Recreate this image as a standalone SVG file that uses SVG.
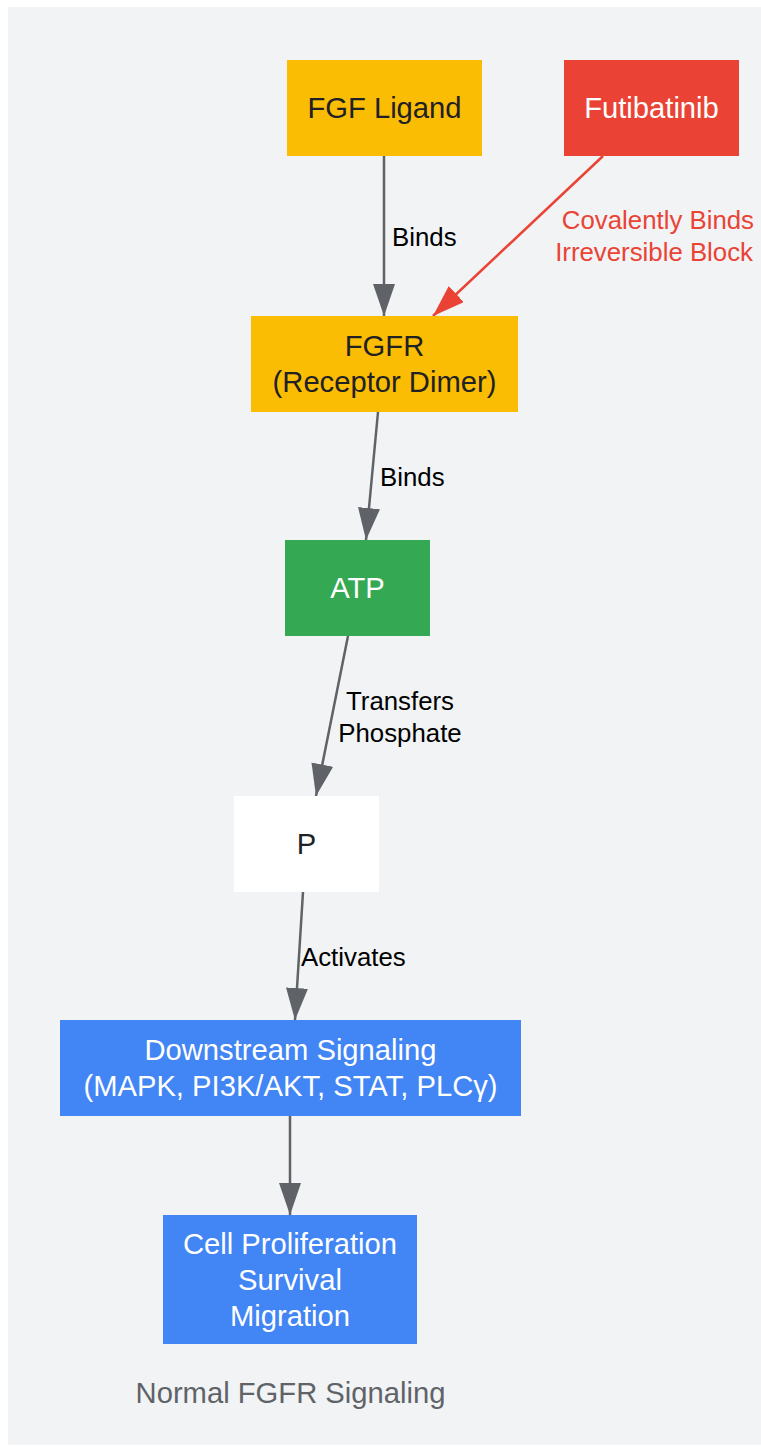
<svg xmlns="http://www.w3.org/2000/svg" width="761" height="1446" viewBox="0 0 761 1446">
<style>
.nt{font-family:"Liberation Sans",Arial,sans-serif;font-size:29.2px;text-anchor:middle}
.el{font-family:"Liberation Sans",Arial,sans-serif;font-size:25.8px;fill:#000}
.dark{fill:#202124}
.white{fill:#ffffff}
.edge{fill:none;stroke:#5f6368;stroke-width:2.5}
.red{fill:none;stroke:#ea4335;stroke-width:2.5}
</style>
<defs>
<marker id="ag" markerUnits="userSpaceOnUse" markerWidth="32" markerHeight="22" refX="32" refY="11" orient="auto">
<path d="M0,0 L32,11 L0,22 z" fill="#5f6368"/>
</marker>
<marker id="ar" markerUnits="userSpaceOnUse" markerWidth="32" markerHeight="22" refX="32" refY="11" orient="auto">
<path d="M0,0 L32,11 L0,22 z" fill="#ea4335"/>
</marker>
</defs>
<rect x="0" y="0" width="761" height="1446" fill="#ffffff"/>
<rect x="8" y="7" width="753" height="1438" fill="#f1f3f5"/>
<g id="connectors">
<line class="edge" x1="384" y1="156" x2="384" y2="316" marker-end="url(#ag)"/>
<line class="red" x1="603" y1="156" x2="433" y2="316" marker-end="url(#ar)"/>
<line class="edge" x1="378" y1="412" x2="366" y2="540" marker-end="url(#ag)"/>
<line class="edge" x1="348" y1="636" x2="316" y2="796" marker-end="url(#ag)"/>
<line class="edge" x1="303" y1="892" x2="295" y2="1020" marker-end="url(#ag)"/>
<line class="edge" x1="290" y1="1116" x2="290" y2="1215" marker-end="url(#ag)"/>
<text class="el" x="392" y="246">Binds</text>
<text class="el" x="754" y="229" text-anchor="end" style="fill:#ea4335">Covalently Binds</text>
<text class="el" x="753" y="261" text-anchor="end" style="fill:#ea4335">Irreversible Block</text>
<text class="el" x="380" y="486">Binds</text>
<text class="el" x="400" y="710" text-anchor="middle">Transfers</text>
<text class="el" x="400" y="742" text-anchor="middle">Phosphate</text>
<text class="el" x="301" y="966">Activates</text>
</g>
<g id="fgf">
<rect x="287" y="60" width="195" height="96" fill="#fbbc04"/>
<text class="nt dark" x="384.5" y="118">FGF Ligand</text>
</g>
<g id="futibatinib">
<rect x="564" y="60" width="175" height="96" fill="#ea4335"/>
<text class="nt white" x="651.5" y="118">Futibatinib</text>
</g>
<g id="fgfr">
<rect x="251" y="316" width="267" height="96" fill="#fbbc04"/>
<text class="nt dark" x="384.5" y="356">FGFR</text>
<text class="nt dark" x="384.5" y="392">(Receptor Dimer)</text>
</g>
<g id="atp">
<rect x="285" y="540" width="145" height="96" fill="#34a853"/>
<text class="nt white" x="357.5" y="598">ATP</text>
</g>
<g id="p">
<rect x="234" y="796" width="145" height="96" fill="#ffffff"/>
<text class="nt dark" x="306.5" y="854">P</text>
</g>
<g id="downstream">
<rect x="60" y="1020" width="461" height="96" fill="#4285f4"/>
<text class="nt white" x="290.5" y="1060">Downstream Signaling</text>
<text class="nt white" x="290.5" y="1096">(MAPK, PI3K/AKT, STAT, PLCγ)</text>
</g>
<g id="cell">
<rect x="163" y="1215" width="254" height="129" fill="#4285f4"/>
<text class="nt white" x="290" y="1254">Cell Proliferation</text>
<text class="nt white" x="290" y="1290">Survival</text>
<text class="nt white" x="290" y="1326">Migration</text>
</g>
<g id="title">
<text class="nt" x="290.5" y="1403" style="fill:#5f6368">Normal FGFR Signaling</text>
</g>
</svg>
